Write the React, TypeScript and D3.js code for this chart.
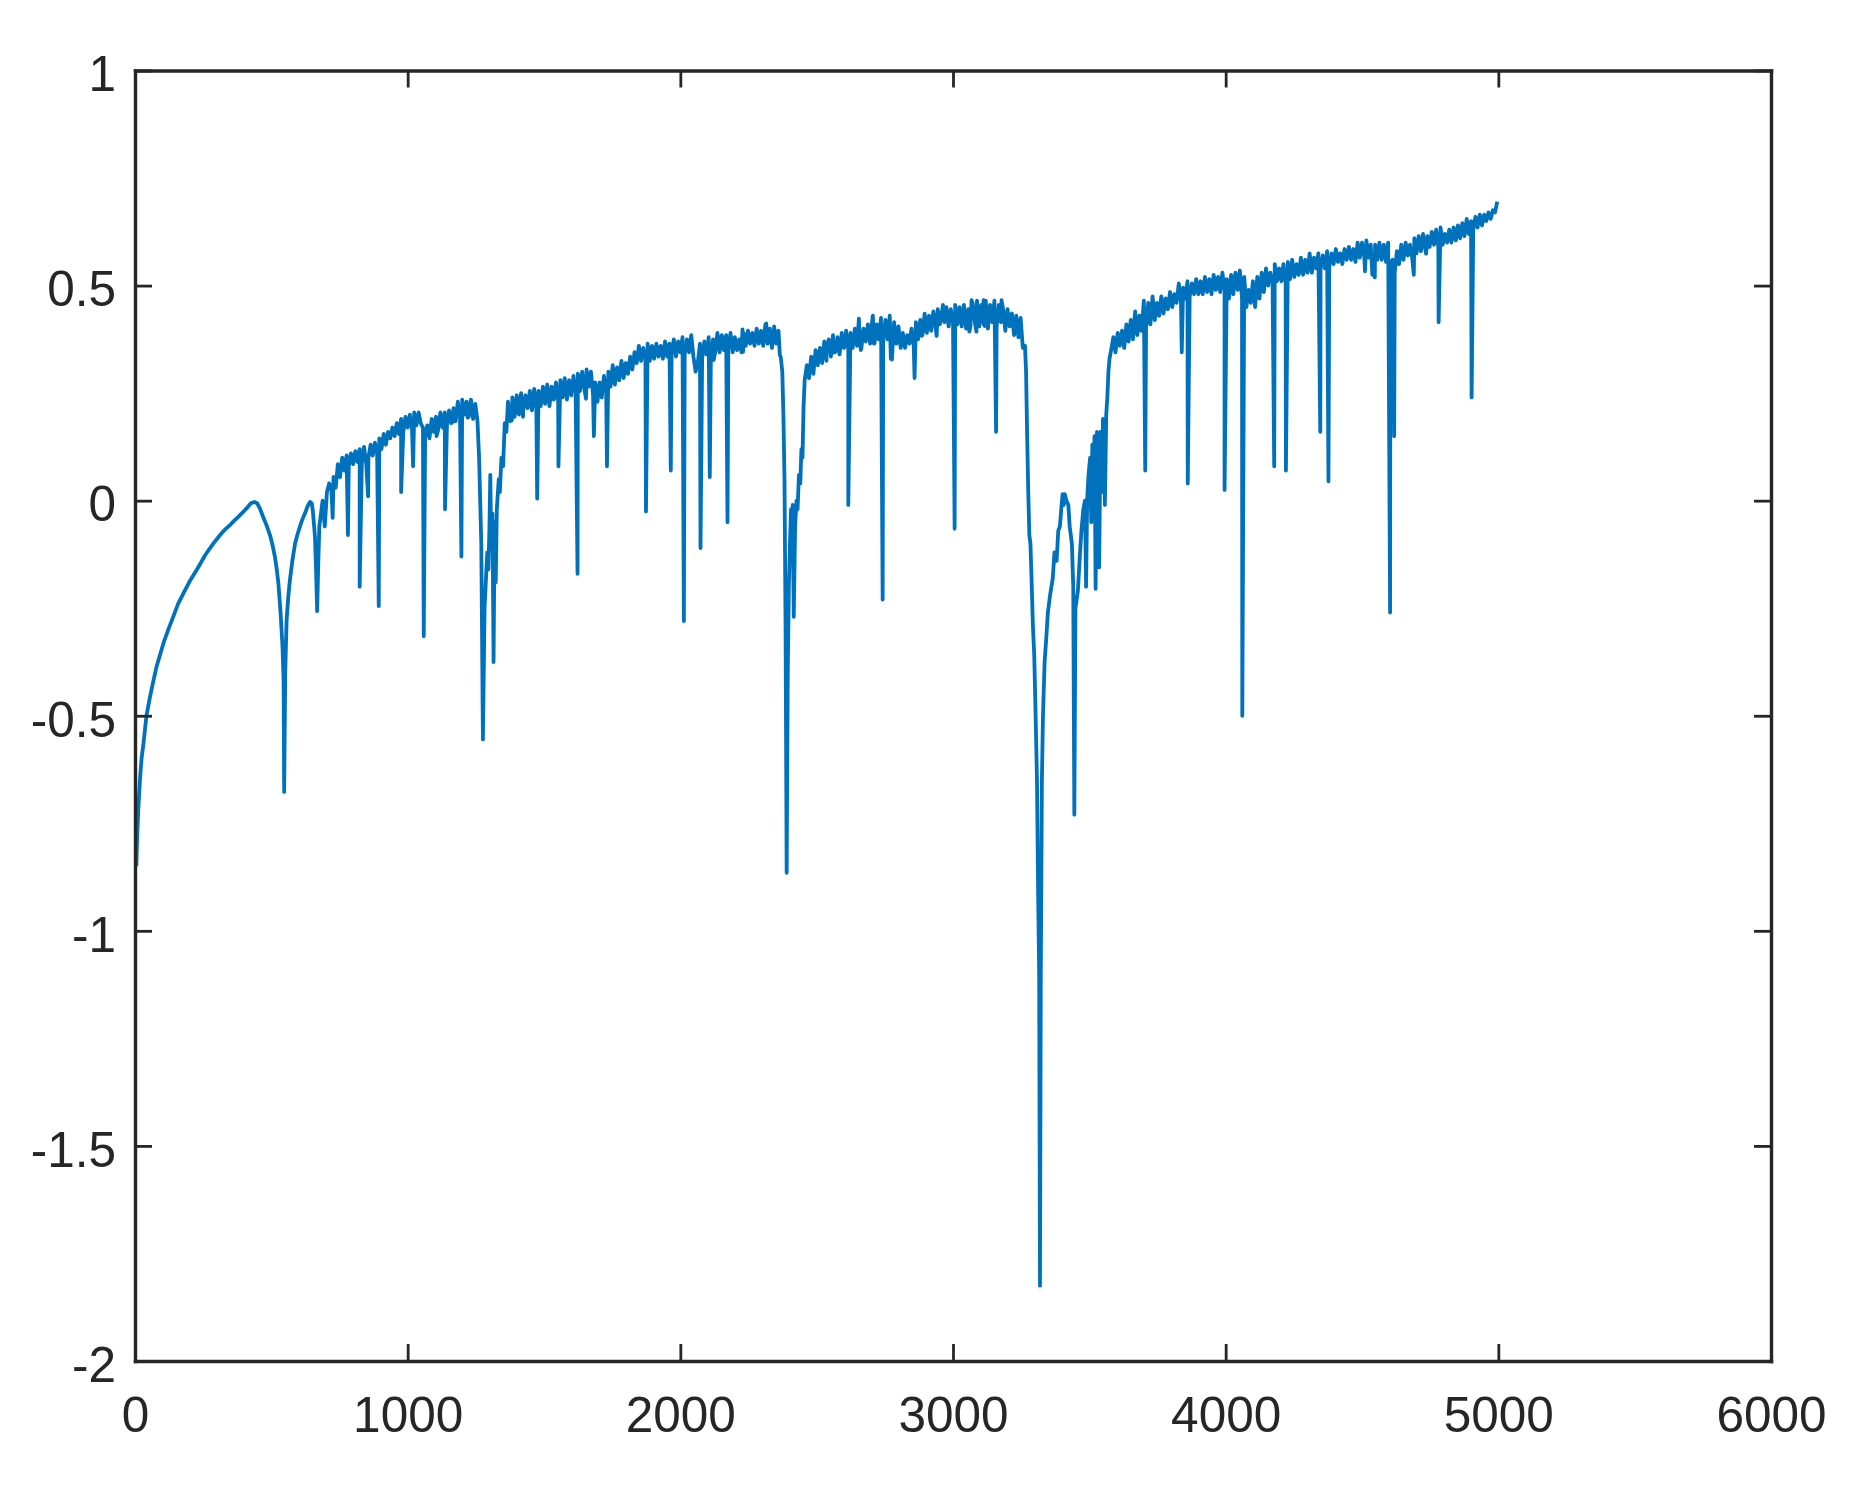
import { useEffect, useRef } from "react";
import * as d3 from "d3";

const xTicks = [0, 1000, 2000, 3000, 4000, 5000, 6000];
const yTicks = [-2, -1.5, -1, -0.5, 0, 0.5, 1];

// smooth start of the curve, [x, y]
const startCurve = [
  [5, -0.85], [8, -0.78], [12, -0.72], [18, -0.65], [24, -0.6], [31, -0.565], [42, -0.5], [55, -0.456], [67, -0.42],
  [79, -0.386], [104, -0.332], [122, -0.3], [140, -0.27], [158, -0.24], [177, -0.216], [200, -0.188], [226, -0.161],
  [240, -0.146], [256, -0.128], [272, -0.113], [287, -0.1], [302, -0.088], [317, -0.076], [332, -0.066], [348, -0.057],
  [363, -0.047], [378, -0.038], [394, -0.028], [409, -0.018], [425, -0.006], [438, -0.003], [448, -0.006], [458, -0.018],
  [470, -0.038], [483, -0.058], [495, -0.08], [505, -0.105], [513, -0.13], [520, -0.16], [526, -0.193], [534, -0.262],
  [541, -0.34], [545, -0.42], [551, -0.4], [556, -0.278], [562, -0.225], [568, -0.185], [577, -0.14], [587, -0.1],
  [596, -0.078], [605, -0.06], [614, -0.043], [623, -0.03], [633, -0.013], [642, -0.003], [648, -0.006], [652, -0.022],
  [657, -0.06], [660, -0.084], [664, -0.16], [672, -0.15], [676, -0.06],
];

// noisy stretches, one value every 8 on x
const bandAStart = 680;
const bandA = [
  -0.04, 0.0, -0.06, 0.02, 0.04, 0.03, 0.055, 0.03, 0.085, 0.055, 0.1, 0.07, 0.105, 0.08, 0.11, 0.085, 0.115, 0.09,
  0.12, 0.09, 0.125, 0.085, 0.1, 0.13, 0.105, 0.135, 0.11, 0.145, 0.12, 0.155, 0.13, 0.16, 0.145, 0.17, 0.15, 0.18,
  0.155, 0.19, 0.16, 0.195, 0.17, 0.2, 0.165, 0.205, 0.175, 0.205, 0.18, 0.17, 0.145, 0.175, 0.145, 0.19, 0.16, 0.195,
  0.165, 0.205, 0.17, 0.205, 0.175, 0.21, 0.18, 0.215, 0.185, 0.23, 0.195, 0.235, 0.2, 0.23, 0.195, 0.235, 0.19, 0.225, 0.185,
];

const gapA = [
  [1262, 0.1], [1266, 0.0], [1270, -0.1], [1282, -0.25], [1288, -0.17], [1292, -0.12], [1296, -0.16], [1300, -0.06],
  [1303, 0.06], [1306, -0.08], [1311, -0.03], [1319, -0.05], [1327, -0.02], [1334, 0.05], [1338, 0.02], [1344, 0.1],
  [1350, 0.08], [1356, 0.18], [1362, 0.16],
];

const bandBStart = 1368;
const bandB = [
  0.23, 0.185, 0.24, 0.195, 0.245, 0.2, 0.25, 0.21, 0.245, 0.215, 0.255, 0.21, 0.26, 0.215, 0.255, 0.22, 0.265, 0.225,
  0.27, 0.22, 0.265, 0.235, 0.275, 0.23, 0.28, 0.24, 0.285, 0.235, 0.28, 0.245, 0.29, 0.25, 0.295, 0.255, 0.3, 0.26,
  0.305, 0.265, 0.3, 0.245, 0.275, 0.23, 0.275, 0.24, 0.29, 0.255, 0.3, 0.265, 0.315, 0.27, 0.31, 0.28, 0.325, 0.285,
  0.32, 0.295, 0.335, 0.305, 0.345, 0.32, 0.36, 0.325, 0.355, 0.33, 0.365, 0.325, 0.36, 0.33, 0.365, 0.335, 0.36, 0.33,
  0.37, 0.335, 0.365, 0.34, 0.375, 0.335, 0.37, 0.345, 0.38, 0.34, 0.375, 0.345, 0.385, 0.335, 0.3, 0.32, 0.365, 0.33,
  0.37, 0.34, 0.38, 0.335, 0.375, 0.345, 0.39, 0.345, 0.385, 0.35, 0.385, 0.355, 0.39, 0.345, 0.38, 0.35, 0.375, 0.345,
  0.39, 0.36, 0.395, 0.365, 0.39, 0.36, 0.4, 0.365, 0.395, 0.36, 0.41, 0.365, 0.4, 0.355, 0.405, 0.365, 0.395, 0.335,
];

const gapB = [
  [2374, 0.3], [2378, 0.2], [2382, 0.05], [2386, -0.3], [2394, -0.4], [2398, -0.2], [2402, -0.1], [2406, -0.02],
  [2410, -0.06], [2412, -0.01], [2421, -0.06], [2426, 0.0], [2430, -0.02], [2435, 0.06], [2440, 0.04], [2444, 0.12],
  [2448, 0.1], [2452, 0.22],
];

const bandCStart = 2456;
const bandC = [
  0.28, 0.315, 0.285, 0.335, 0.295, 0.35, 0.315, 0.355, 0.32, 0.37, 0.325, 0.375, 0.335, 0.385, 0.345, 0.38, 0.34, 0.39,
  0.355, 0.395, 0.35, 0.39, 0.355, 0.4, 0.36, 0.405, 0.355, 0.4, 0.37, 0.41, 0.365, 0.42, 0.365, 0.41, 0.375, 0.425,
  0.37, 0.42, 0.375, 0.43, 0.38, 0.415, 0.365, 0.405, 0.355, 0.39, 0.355, 0.385, 0.365, 0.4, 0.36, 0.415, 0.375, 0.42,
  0.385, 0.435, 0.39, 0.43, 0.395, 0.44, 0.405, 0.445, 0.41, 0.44, 0.415, 0.45, 0.405, 0.445, 0.415, 0.455, 0.41, 0.45,
  0.405, 0.455, 0.4, 0.445, 0.405, 0.46, 0.415, 0.465, 0.405, 0.455, 0.41, 0.465, 0.4, 0.455, 0.415, 0.465, 0.405, 0.455,
  0.415, 0.445, 0.395, 0.445, 0.405, 0.435, 0.385, 0.43, 0.38, 0.425, 0.355,
];

const gapC = [
  [3264, 0.36], [3268, 0.3], [3272, 0.15], [3276, 0.02], [3280, -0.08], [3284, -0.1], [3288, -0.18], [3293, -0.29],
  [3298, -0.36], [3303, -0.5], [3308, -0.65], [3312, -0.9], [3316, -1.1], [3322, -1.1], [3326, -0.65], [3330, -0.5],
  [3336, -0.375], [3342, -0.32], [3348, -0.26], [3356, -0.22], [3366, -0.18], [3372, -0.12], [3380, -0.14], [3386, -0.07],
  [3392, -0.06], [3397, -0.02], [3402, 0.015], [3406, -0.01], [3410, 0.015], [3416, 0.0], [3423, -0.01], [3428, -0.06],
  [3436, -0.1], [3441, -0.2], [3449, -0.25], [3458, -0.21], [3465, -0.13], [3471, -0.07], [3478, -0.02], [3484, 0.0],
  [3492, 0.0], [3497, 0.06], [3503, 0.1], [3507, -0.05], [3511, 0.13], [3515, 0.02], [3519, 0.15], [3528, 0.16],
  [3533, 0.1], [3541, 0.16], [3546, 0.02], [3550, 0.19], [3554, 0.1], [3562, 0.2], [3566, 0.24], [3570, 0.3], [3574, 0.33],
];

const bandDStart = 3580;
const bandD = [
  0.35, 0.38, 0.345, 0.39, 0.36, 0.395, 0.355, 0.41, 0.37, 0.42,
  0.375, 0.44, 0.385, 0.43, 0.395, 0.465, 0.4, 0.46, 0.41, 0.475,
  0.42, 0.46, 0.43, 0.475, 0.435, 0.47, 0.445, 0.485, 0.45, 0.48,
  0.46, 0.505, 0.465, 0.495, 0.47, 0.51, 0.475, 0.505, 0.48, 0.515,
  0.48, 0.51, 0.48, 0.52, 0.485, 0.515, 0.48, 0.525, 0.49, 0.52,
  0.485, 0.53, 0.49, 0.515, 0.47, 0.525, 0.48, 0.53, 0.49, 0.535,
  0.47, 0.52, 0.45, 0.49, 0.46, 0.51, 0.45, 0.52, 0.47, 0.53,
  0.485, 0.54, 0.5, 0.53, 0.505, 0.55, 0.51, 0.54, 0.51, 0.55,
  0.505, 0.555, 0.515, 0.56, 0.52, 0.55, 0.525, 0.565, 0.525, 0.56,
  0.53, 0.575, 0.53, 0.565, 0.54, 0.575, 0.54, 0.57, 0.54, 0.58,
  0.545, 0.575, 0.55, 0.585, 0.555, 0.575, 0.55, 0.585, 0.56, 0.59,
  0.56, 0.585, 0.555, 0.6, 0.565, 0.6, 0.57, 0.605, 0.565, 0.595,
  0.57, 0.595, 0.56, 0.6, 0.56, 0.595, 0.555, 0.6, 0.55, 0.56,
  0.53, 0.58, 0.55, 0.595, 0.56, 0.6, 0.57, 0.595, 0.565, 0.61,
  0.575, 0.615, 0.58, 0.62, 0.585, 0.615, 0.59, 0.625, 0.595, 0.63,
  0.59, 0.635, 0.595, 0.62, 0.6, 0.63, 0.6, 0.635, 0.605, 0.64,
  0.61, 0.645, 0.615, 0.655, 0.62, 0.65, 0.63, 0.66, 0.635, 0.665,
  0.64, 0.665, 0.65, 0.67, 0.655, 0.675, 0.67, 0.695,
];

// narrow downward spikes, [x, tip y]
const dips = [
  [547, -0.677], [668, -0.257], [725, -0.04], [781, -0.08], [824, -0.2], [855, 0.01], [894, -0.245], [976, 0.02],
  [1020, 0.08], [1059, -0.315], [1106, 0.15], [1137, -0.02], [1197, -0.13], [1276, -0.555], [1315, -0.375],
  [1323, -0.19], [1475, 0.005], [1553, 0.08], [1623, -0.17], [1683, 0.15], [1731, 0.08], [1874, -0.025], [1965, 0.07],
  [2013, -0.28], [2074, -0.11], [2108, 0.055], [2173, -0.05], [2390, -0.865], [2416, -0.27], [2616, -0.01],
  [2742, -0.23], [2772, 0.33], [2859, 0.285], [3006, -0.065], [3158, 0.16], [3319, -1.825], [3445, -0.73], [3488, -0.2],
  [3523, -0.205], [3536, -0.155], [3557, -0.01], [3705, 0.07], [3839, 0.345], [3861, 0.04], [3996, 0.025], [4061, -0.5],
  [4178, 0.08], [4221, 0.07], [4347, 0.16], [4377, 0.045], [4538, 0.525], [4603, -0.26], [4618, 0.15], [4690, 0.525],
  [4781, 0.415], [4902, 0.24],
];

// short notches and peaks on the band edge, [x, y]
const notches = [
  [1165, 0.183], [1220, 0.193], [1382, 0.187], [1423, 0.195], [1654, 0.237], [2122, 0.327], [2230, 0.346], [2365, 0.338],
  [2536, 0.346], [2560, 0.344], [2662, 0.35], [2710, 0.365], [2776, 0.328], [2885, 0.383], [2940, 0.383], [3060, 0.393],
  [3086, 0.393], [3116, 0.406], [3227, 0.393], [3686, 0.396], [3748, 0.435], [4511, 0.533], [4547, 0.519], [4735, 0.574],
  [2228, 0.398], [2315, 0.412], [2655, 0.423], [2706, 0.43], [2963, 0.455], [3068, 0.466], [3112, 0.466], [3178, 0.466],
];

const sampled = (start: number, values: number[]) => values.map((v, i) => [start + i * 8, v]);

const series = [
  ...startCurve,
  ...sampled(bandAStart, bandA),
  ...gapA,
  ...sampled(bandBStart, bandB),
  ...gapB,
  ...sampled(bandCStart, bandC),
  ...gapC,
  ...sampled(bandDStart, bandD),
  ...dips,
  ...notches,
].sort((a, b) => a[0] - b[0]);

const INK = "#262626";
const LINE = "#0072BD";

export default function App() {
  const svgRef = useRef<SVGSVGElement>(null);

  useEffect(() => {
    if (!svgRef.current) return;
    const svg = d3.select(svgRef.current);
    svg.selectAll("*").remove();

    const width = 1855;
    const height = 1501;
    const margin = { top: 70.5, right: 84, bottom: 140, left: 135 };
    const right = width - margin.right;
    const bottom = height - margin.bottom;

    const x = d3.scaleLinear().domain([0, 6000]).range([margin.left, right]);
    const y = d3.scaleLinear().domain([-2, 1]).range([bottom, margin.top]);

    const line = d3
      .line<number[]>()
      .x((d) => x(d[0]))
      .y((d) => y(d[1]));

    svg
      .append("path")
      .datum(series)
      .attr("d", line)
      .attr("fill", "none")
      .attr("stroke", LINE)
      .attr("stroke-width", 3.8)
      .attr("stroke-linejoin", "round");

    const fmt = (d: d3.NumberValue) => String(d);
    const tickLen = 17;

    const styleAxis = (g: d3.Selection<SVGGElement, unknown, null, undefined>) => {
      g.attr("color", INK).attr("font-family", '"Liberation Sans", Arial, sans-serif').attr("font-size", 49.5);
      g.select(".domain").attr("stroke-width", 3.4).attr("stroke-linecap", "square");
      g.selectAll(".tick line").attr("stroke-width", 2.8);
    };

    svg
      .append("g")
      .attr("transform", `translate(0,${bottom})`)
      .call(d3.axisBottom(x).tickValues(xTicks).tickFormat(fmt).tickSizeInner(-tickLen).tickSizeOuter(0).tickPadding(36))
      .call(styleAxis);

    svg
      .append("g")
      .attr("transform", `translate(0,${margin.top})`)
      .call(d3.axisTop(x).tickValues(xTicks).tickFormat(() => "").tickSizeInner(-tickLen).tickSizeOuter(0))
      .call(styleAxis);

    svg
      .append("g")
      .attr("transform", `translate(${margin.left},0)`)
      .call(d3.axisLeft(y).tickValues(yTicks).tickFormat(fmt).tickSizeInner(-tickLen).tickSizeOuter(0).tickPadding(19))
      .call(styleAxis)
      .selectAll("text")
      .attr("dy", "0.41em");

    svg
      .append("g")
      .attr("transform", `translate(${right},0)`)
      .call(d3.axisRight(y).tickValues(yTicks).tickFormat(() => "").tickSizeInner(-tickLen).tickSizeOuter(0))
      .call(styleAxis);
  }, []);

  return (
    <svg
      ref={svgRef}
      width={1855}
      height={1501}
      viewBox="0 0 1855 1501"
      style={{ position: "absolute", left: 0, top: 0, background: "#fff" }}
    />
  );
}
